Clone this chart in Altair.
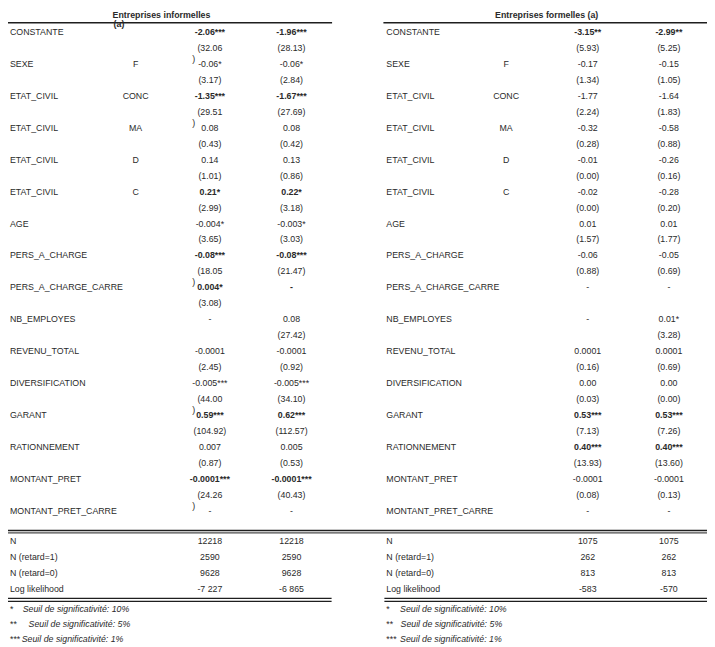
import altair as alt
import pandas as pd

# ---------------- data ----------------
variables = ["CONSTANTE", "SEXE", "ETAT_CIVIL", "ETAT_CIVIL", "ETAT_CIVIL", "ETAT_CIVIL",
             "AGE", "PERS_A_CHARGE", "PERS_A_CHARGE_CARRE", "NB_EMPLOYES", "REVENU_TOTAL",
             "DIVERSIFICATION", "GARANT", "RATIONNEMENT", "MONTANT_PRET", "MONTANT_PRET_CARRE"]
modalities = ["", "F", "CONC", "MA", "D", "C", "", "", "", "", "", "", "", "", "", ""]

inf_coef_1 = ["-2.06***", "-0.06*", "-1.35***", "0.08", "0.14", "0.21*", "-0.004*", "-0.08***",
              "0.004*", "-", "-0.0001", "-0.005***", "0.59***", "0.007", "-0.0001***", "-"]
inf_se_1 = ["(32.06)", "(3.17)", "(29.51)", "(0.43)", "(1.01)", "(2.99)", "(3.65)", "(18.05)",
            "(3.08)", "", "(2.45)", "(44.00)", "(104.92)", "(0.87)", "(24.26)", ""]
inf_coef_2 = ["-1.96***", "-0.06*", "-1.67***", "0.08", "0.13", "0.22*", "-0.003*", "-0.08***",
              "-", "0.08", "-0.0001", "-0.005***", "0.62***", "0.005", "-0.0001***", "-"]
inf_se_2 = ["(28.13)", "(2.84)", "(27.69)", "(0.42)", "(0.86)", "(3.18)", "(3.03)", "(21.47)",
            "", "(27.42)", "(0.92)", "(34.10)", "(112.57)", "(0.53)", "(40.43)", ""]
inf_bold = [True, False, True, False, False, True, False, True,
            True, False, False, False, True, False, True, False]
inf_se_1_wrapped = [0, 2, 7, 11, 14]

for_coef_1 = ["-3.15**", "-0.17", "-1.77", "-0.32", "-0.01", "-0.02", "0.01", "-0.06",
              "-", "-", "0.0001", "0.00", "0.53***", "0.40***", "-0.0001", "-"]
for_se_1 = ["(5.93)", "(1.34)", "(2.24)", "(0.28)", "(0.00)", "(0.00)", "(1.57)", "(0.88)",
            "", "", "(0.16)", "(0.03)", "(7.13)", "(13.93)", "(0.08)", ""]
for_coef_2 = ["-2.99**", "-0.15", "-1.64", "-0.58", "-0.26", "-0.28", "0.01", "-0.05",
              "-", "0.01*", "0.0001", "0.00", "0.53***", "0.40***", "-0.0001", "-"]
for_se_2 = ["(5.25)", "(1.05)", "(1.83)", "(0.88)", "(0.16)", "(0.20)", "(1.77)", "(0.69)",
            "", "(3.28)", "(0.69)", "(0.00)", "(7.26)", "(13.60)", "(0.13)", ""]
for_bold = [True, False, False, False, False, False, False, False,
            False, False, False, False, True, True, False, False]

stat_labels = ["N", "N (retard=1)", "N (retard=0)", "Log likelihood"]
inf_stats_1 = ["12218", "2590", "9628", "-7 227"]
inf_stats_2 = ["12218", "2590", "9628", "-6 865"]
for_stats_1 = ["1075", "262", "813", "-583"]
for_stats_2 = ["1075", "262", "813", "-570"]

foot_stars = ["*", "**", "***"]
foot_texts = ["Seuil de significativité: 10%", "Seuil de significativité: 5%",
              "Seuil de significativité: 1%"]

header_inf = ["Entreprises informelles", "(a)"]
header_for = "Entreprises formelles (a)"

# ---------------- layout (reference pixels) ----------------
COL_X = {
    "L_var": 2, "L_cat": 130.5, "L_c1": 206.5, "L_c2": 290,
    "R_var": 387, "R_cat": 509.5, "R_c1": 593, "R_c2": 676,
    "L_wrap": 188.5,
    "L_star": 2, "R_star": 387,
    "L_hdr": 107, "R_hdr": 551,
}
FOOT_TEXT_X = {"L": [15, 21, 14], "R": [401, 401.5, 401]}
STAT_U0 = 31.88
FOOT_U = [36.13, 37.1, 38.02]
HDR_U = [-1.08, -0.47]

rows = []


def add(u, col, text, kind, x=None):
    if text == "":
        return
    rows.append({"u": u, "x": COL_X[col] if x is None else x, "text": text, "kind": kind})


for side, coefs1, ses1, coefs2, ses2, bold, wrapped in [
    ("L", inf_coef_1, inf_se_1, inf_coef_2, inf_se_2, inf_bold, inf_se_1_wrapped),
    ("R", for_coef_1, for_se_1, for_coef_2, for_se_2, for_bold, []),
]:
    for i, var in enumerate(variables):
        u = 2 * i
        add(u, side + "_var", var, "left")
        add(u, side + "_cat", modalities[i], "center")
        k = "bold" if bold[i] else "center"
        add(u, side + "_c1", coefs1[i], k)
        add(u, side + "_c2", coefs2[i], k)
        if i in wrapped:
            add(u + 1, side + "_c1", ses1[i][:-1], "center")
            add(u + 1.68, side + "_wrap", ")", "left")
        else:
            add(u + 1, side + "_c1", ses1[i], "center")
        add(u + 1, side + "_c2", ses2[i], "center")

for side, s1, s2 in [("L", inf_stats_1, inf_stats_2), ("R", for_stats_1, for_stats_2)]:
    for j, lab in enumerate(stat_labels):
        u = STAT_U0 + j
        add(u, side + "_var", lab, "left")
        add(u, side + "_c1", s1[j], "center")
        add(u, side + "_c2", s2[j], "center")
    for j, st in enumerate(foot_stars):
        add(FOOT_U[j], side + "_star", st, "left")
        add(FOOT_U[j], side + "_star", foot_texts[j], "italic", x=FOOT_TEXT_X[side][j])

add(HDR_U[0], "L_hdr", header_inf[0], "hdr_left")
add(HDR_U[1], "L_hdr", header_inf[1], "hdr_left", x=COL_X["L_hdr"] + 1)
add(HDR_U[0], "R_hdr", header_for, "hdr_center")

df = pd.DataFrame(rows)

# rules: u position, start x, end x, width
rules = pd.DataFrame([
    {"u": -0.57, "x0": 0, "x1": 331.5, "w": 1.6},
    {"u": -0.57, "x0": 384, "x1": 715, "w": 1.6},
    {"u": 31.22, "x0": 0, "x1": 715, "w": 1.3},
    {"u": 31.37, "x0": 0, "x1": 715, "w": 1.0},
    {"u": 35.47, "x0": 0, "x1": 331, "w": 1.2},
    {"u": 35.66, "x0": 0, "x1": 331, "w": 1.2},
    {"u": 35.47, "x0": 385, "x1": 715, "w": 1.2},
    {"u": 35.66, "x0": 385, "x1": 715, "w": 1.2},
])

W, H = 699, 639
SY = 0.98
xscale = alt.Scale(domain=[0, 715], range=[0, W], zero=False, nice=False)
yscale = alt.Scale(domain=[0, 30], range=[24.3 * SY, 513.3 * SY], zero=False, nice=False)

FONT = "Liberation Sans"
FS = 8.8
COLOR = "#2a2a2a"

base = alt.Chart(df).encode(
    x=alt.X("x:Q", scale=xscale, axis=None),
    y=alt.Y("u:Q", scale=yscale, axis=None),
    text="text:N",
)


def layer(kind, align, weight="normal", style="normal"):
    return base.transform_filter(alt.datum.kind == kind).mark_text(
        align=align, baseline="middle", font=FONT, fontSize=FS,
        fontWeight=weight, fontStyle=style, color=COLOR,
    )


rule_layer = alt.Chart(rules).mark_rule(color="#1e1e1e").encode(
    x=alt.X("x0:Q", scale=xscale, axis=None),
    x2="x1:Q",
    y=alt.Y("u:Q", scale=yscale, axis=None),
    strokeWidth=alt.StrokeWidth("w:Q", scale=None, legend=None),
)

chart = alt.layer(
    rule_layer,
    layer("left", "left"),
    layer("center", "center"),
    layer("bold", "center", weight="bold"),
    layer("italic", "left", style="italic"),
    layer("hdr_left", "left", weight="bold"),
    layer("hdr_center", "center", weight="bold"),
).properties(
    width=W, height=H,
    autosize=alt.AutoSizeParams(type="none"),
    padding=0,
    background="white",
).configure_view(stroke=None)

chart.save("out.html", embed_options={"renderer": "svg", "actions": False})
